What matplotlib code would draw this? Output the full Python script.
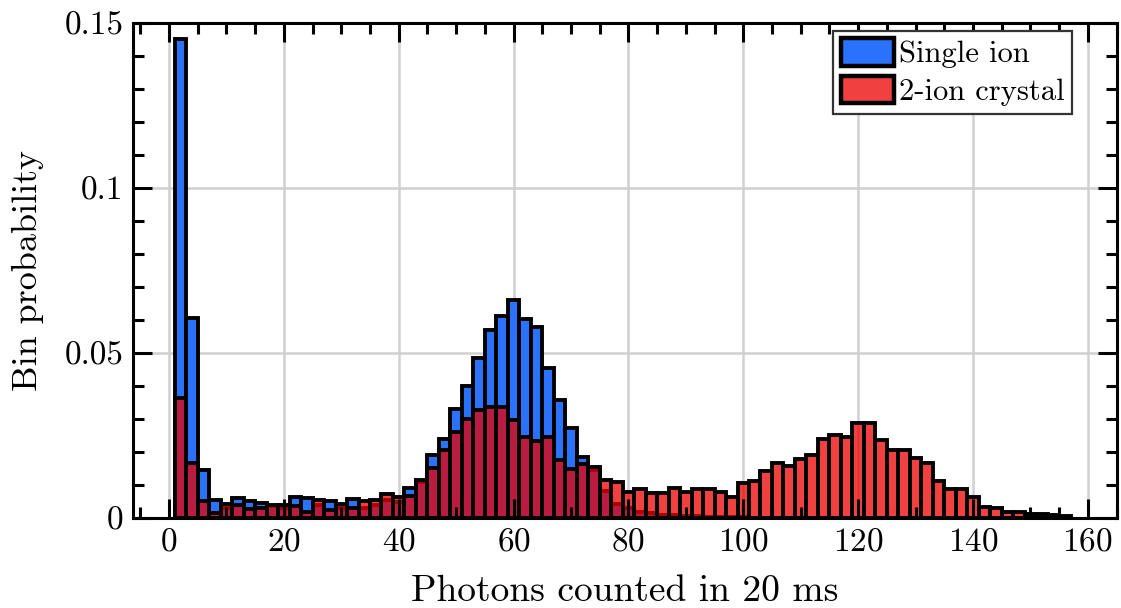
import numpy as np
import matplotlib
matplotlib.use("Agg")
import matplotlib.pyplot as plt
from matplotlib.ticker import MultipleLocator

plt.rcParams['font.family'] = ['cmr10', 'DejaVu Serif']
plt.rcParams['mathtext.fontset'] = 'cm'
plt.rcParams['axes.formatter.use_mathtext'] = True

# bin centres (photon counts) and probabilities
bin_centers = np.arange(2, 158, 2)
single_ion = [
    0.1451, 0.0605, 0.0147, 0.0055, 0.0030, 0.0062, 0.0051, 0.0046, 0.0035, 0.0030,
    0.0064, 0.0062, 0.0040, 0.0052, 0.0030, 0.0058, 0.0030, 0.0040, 0.0055, 0.0050,
    0.0090, 0.0108, 0.0191, 0.0240, 0.0330, 0.0400, 0.0486, 0.0571, 0.0612, 0.0660,
    0.0603, 0.0579, 0.0455, 0.0359, 0.0272, 0.0186, 0.0145, 0.0081, 0.0043, 0.0030,
    0.0018, 0.0015, 0.0010, 0.0008, 0.0006, 0.0005, 0.0004, 0.0003, 0.0002, 0.0002,
    0.0001, 0.0001, 0.0001, 0.0, 0.0, 0.0, 0.0, 0.0, 0.0, 0.0,
    0.0, 0.0, 0.0, 0.0, 0.0, 0.0, 0.0, 0.0, 0.0, 0.0,
    0.0, 0.0, 0.0, 0.0, 0.0, 0.0, 0.0, 0.0,
]
two_ion = [
    0.0364, 0.0166, 0.0053, 0.0015, 0.0041, 0.0039, 0.0028, 0.0029, 0.0038, 0.0038,
    0.0037, 0.0018, 0.0054, 0.0024, 0.0043, 0.0029, 0.0053, 0.0055, 0.0072, 0.0065,
    0.0067, 0.0115, 0.0153, 0.0206, 0.0262, 0.0301, 0.0328, 0.0335, 0.0337, 0.0296,
    0.0247, 0.0232, 0.0247, 0.0175, 0.0148, 0.0163, 0.0155, 0.0114, 0.0109, 0.0080,
    0.0088, 0.0075, 0.0075, 0.0090, 0.0078, 0.0087, 0.0087, 0.0078, 0.0064, 0.0105,
    0.0112, 0.0142, 0.0166, 0.0157, 0.0178, 0.0192, 0.0240, 0.0252, 0.0247, 0.0287,
    0.0288, 0.0235, 0.0205, 0.0206, 0.0181, 0.0166, 0.0113, 0.0087, 0.0087, 0.0064,
    0.0034, 0.0030, 0.0018, 0.0018, 0.0013, 0.0012, 0.0010, 0.0005,
]
series_labels = ["Single ion", "2-ion crystal"]
x_ticks = [0, 20, 40, 60, 80, 100, 120, 140, 160]
y_ticks = [0, 0.05, 0.1, 0.15]
y_tick_labels = ["0", "0.05", "0.1", "0.15"]

fig = plt.figure(figsize=(11.21, 6.08), dpi=100)
ax = fig.add_axes([0.119, 0.148, 0.877, 0.814])

ax.bar(bin_centers, single_ion, width=2, color='#2a72fb', edgecolor='black',
       linewidth=2.8, label=series_labels[0], zorder=1)
ax.bar(bin_centers, two_ion, width=2, color=(0.92, 0.0, 0.0, 0.75), edgecolor='black',
       linewidth=2.8, label=series_labels[1], zorder=1.1)

ax.set_xlim(-6.2, 165)
ax.set_ylim(0, 0.15)
ax.set_xticks(x_ticks)
ax.set_yticks(y_ticks)
ax.set_yticklabels(y_tick_labels)
ax.xaxis.set_minor_locator(MultipleLocator(5))
ax.yaxis.set_minor_locator(MultipleLocator(0.01))

for v in x_ticks:
    ax.axvline(v, color='#d0d0d0', lw=1.8, zorder=0)
for v in y_ticks:
    ax.axhline(v, color='#d0d0d0', lw=1.8, zorder=0)

ax.tick_params(which='both', direction='in', top=True, right=True, width=2.2,
               labelsize=24, pad=7)
ax.tick_params(which='major', length=14)
ax.tick_params(which='minor', length=8)
for s in ax.spines.values():
    s.set_linewidth(2.2)

ax.set_xlabel("Photons counted in 20 ms", fontsize=27, labelpad=13)
ax.set_ylabel("Bin probability", fontsize=26, labelpad=15)

leg = ax.legend(loc='upper right', bbox_to_anchor=(0.955, 0.985), fontsize=22,
                fancybox=False, framealpha=1, edgecolor='#333333', borderpad=0.25,
                handlelength=1.75, handleheight=1.0, handletextpad=0.15,
                labelspacing=0.25, borderaxespad=0.0)
leg.get_frame().set_linewidth(1.6)
for h in leg.legend_handles:
    h.set_linewidth(3.2)

fig.savefig("out.png", dpi=100)
